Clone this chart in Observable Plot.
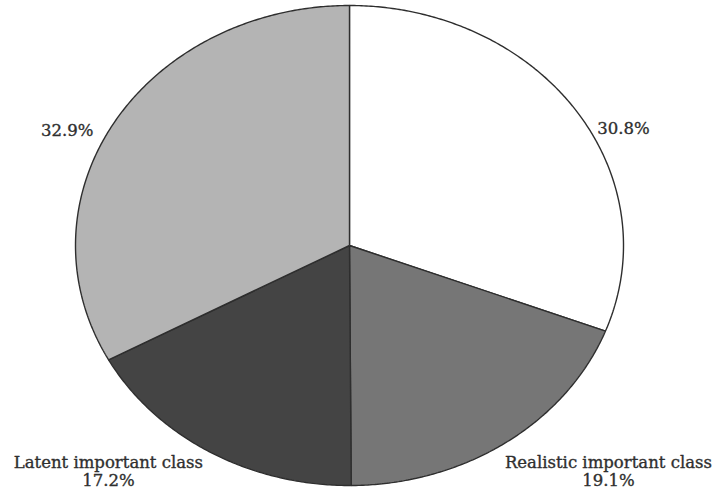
<!DOCTYPE html>
<html>
<head>
<meta charset="utf-8">
<script src="https://cdn.jsdelivr.net/npm/d3@7"></script>
<script src="https://cdn.jsdelivr.net/npm/@observablehq/plot@0.6"></script>
<style>
  html, body { margin: 0; padding: 0; background: #ffffff; }
  #chart svg { display: block; }
</style>
</head>
<body>
<div id="chart"></div>
<script>
// ---- data ----
const categories = ["Class 1", "Realistic important class", "Latent important class", "Class 4"];
const values = [30.8, 19.1, 17.2, 32.9];
const sliceNames = ["", "Realistic important class", "Latent important class", ""];

// ---- styling / layout (kept separate from data) ----
const sliceColors = ["#ffffff", "#767676", "#444444", "#b4b4b4"];
// label anchors in the pie's unit coordinates (outside the ellipse)
const labelAnchors = [[1.0, 0.49], [0.945, -0.94], [-0.88, -0.94], [-1.03, 0.48]];

// Build slice outlines via d3.pie angles (clockwise from 12 o'clock)
const pie = d3.pie().sort(null).value(d => d.value);
const arcs = pie(categories.map((c, i) => ({category: c, value: values[i]})));
const slicePts = [];
arcs.forEach(a => {
  const c = a.data.category;
  slicePts.push({category: c, x: 0, y: 0});
  const n = Math.max(8, Math.ceil((a.endAngle - a.startAngle) / (Math.PI / 360)));
  for (let k = 0; k <= n; k++) {
    const t = a.startAngle + (a.endAngle - a.startAngle) * k / n;
    slicePts.push({category: c, x: Math.sin(t), y: Math.cos(t)});
  }
  slicePts.push({category: c, x: 0, y: 0});
});

const labels = categories.map((c, i) => ({
  x: labelAnchors[i][0],
  y: labelAnchors[i][1],
  text: (sliceNames[i] ? sliceNames[i] + "\n" : "") + values[i].toFixed(1) + "%"
}));

const chart = Plot.plot({
  width: 714,
  height: 491,
  margin: 0,
  x: {domain: [-1, 1], range: [75, 623], axis: null},
  y: {domain: [-1, 1], range: [485, 5], axis: null},
  color: {domain: categories, range: sliceColors},
  style: {background: "#ffffff"},
  marks: [
    Plot.line(slicePts, {
      x: "x", y: "y", z: "category", fill: "category",
      stroke: "#2e2e2e", strokeWidth: 1.4, strokeLinejoin: "miter", strokeLinecap: "butt"
    }),
    Plot.text(labels, {
      x: "x", y: "y", text: "text",
      fontFamily: "DejaVu Serif", fontSize: 16.5, fontWeight: "normal",
      fill: "#2f2f2f", stroke: "#2f2f2f", strokeWidth: 0.35,
      lineHeight: 1.1, textAnchor: "middle"
    })
  ]
});
document.getElementById("chart").appendChild(chart);
</script>
</body>
</html>
